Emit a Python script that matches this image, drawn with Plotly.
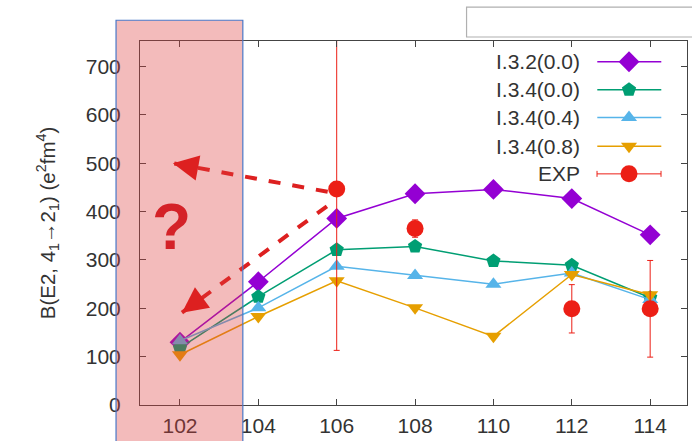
import plotly.graph_objects as go

# ---- data ----
mass = [102, 104, 106, 108, 110, 112, 114]
i332_00 = [130, 255, 386, 437, 446, 427, 352]
i334_00 = [118, 224, 321, 328, 298, 289, 222]
i334_04 = [133, 201, 287, 268, 250, 273, 218]
i334_08 = [104, 183, 257, 201, 142, 270, 228]
exp_x = [106, 108, 112, 114]
exp_y = [447, 365, 199, 199]
exp_err = [334, 18, 50, 100]

names = ["I.3.2(0.0)", "I.3.4(0.0)", "I.3.4(0.4)", "I.3.4(0.8)", "EXP"]
colors = ["#9400d3", "#009e73", "#56b4e9", "#e69f00", "#ec1f16"]
symbols = ["diamond", "pentagon", "triangle-up", "triangle-down", "circle"]
msizes = [16, 15, 14, 14, 17]
series = [i332_00, i334_00, i334_04, i334_08]

xticks = [102, 104, 106, 108, 110, 112, 114]
yticks = [0, 100, 200, 300, 400, 500, 600, 700]

FONT = "Liberation Sans"
fig = go.Figure()

for ys, n, c, s, ms in zip(series, names, colors, symbols, msizes):
    fig.add_trace(go.Scatter(
        x=mass, y=ys, mode="lines+markers", name=n,
        line=dict(color=c, width=1.5),
        marker=dict(symbol=s, size=ms, color=c, line=dict(width=0)),
        showlegend=False, cliponaxis=True))

fig.add_trace(go.Scatter(
    x=exp_x, y=exp_y, mode="markers", name="EXP",
    marker=dict(symbol="circle", size=17, color=colors[4], line=dict(width=0)),
    error_y=dict(type="data", array=exp_err, color=colors[4], thickness=1, width=3),
    showlegend=False))

# ---- custom legend (text on the left of the sample) ----
leg_y = [0.943, 0.866, 0.790, 0.711, 0.635]
lx0, lx1, lxm, ltx = 0.836, 0.953, 0.894, 0.808
for i, (n, c, s, ms) in enumerate(zip(names, colors, symbols, msizes)):
    if i < 4:
        fig.add_trace(go.Scatter(
            x=[lx0, lx1], y=[leg_y[i], leg_y[i]], mode="lines",
            line=dict(color=c, width=1.5), xaxis="x2", yaxis="y2",
            showlegend=False, hoverinfo="skip", cliponaxis=False))
        fig.add_trace(go.Scatter(
            x=[lxm], y=[leg_y[i]], mode="markers",
            marker=dict(symbol=s, size=ms, color=c, line=dict(width=0)),
            xaxis="x2", yaxis="y2", showlegend=False, hoverinfo="skip",
            cliponaxis=False))
    else:
        fig.add_trace(go.Scatter(
            x=[lxm], y=[leg_y[i]], mode="markers",
            marker=dict(symbol=s, size=ms, color=c, line=dict(width=0)),
            error_x=dict(type="constant", value=(lx1 - lx0) / 2, color=c,
                         thickness=1, width=3),
            xaxis="x2", yaxis="y2", showlegend=False, hoverinfo="skip",
            cliponaxis=False))
    fig.add_annotation(x=ltx, y=leg_y[i], xref="paper", yref="paper",
                       text=n, showarrow=False, xanchor="right", yanchor="middle",
                       font=dict(family=FONT, size=21, color="#333333"))

# ---- red dashed arrows ----
arrows = [((105.77, 441), (101.82, 500)), ((105.75, 411), (102.05, 191))]
for (sx, sy), (tx, ty) in arrows:
    fig.add_shape(type="line", xref="x", yref="y", x0=sx, y0=sy, x1=tx, y1=ty,
                  line=dict(color="#dd2020", width=4, dash="dash"), layer="above")
    fig.add_annotation(x=tx, y=ty, ax=tx + (sx - tx) * 0.12, ay=ty + (sy - ty) * 0.12,
                       xref="x", yref="y", axref="x", ayref="y", text="",
                       showarrow=True, arrowhead=2, arrowsize=1.7, arrowwidth=3,
                       arrowcolor="#dd2020")

# ---- pink shaded region ----
fig.add_shape(type="rect", xref="paper", yref="paper",
              x0=-0.0438, x1=0.188, y0=-0.3, y1=1.057,
              fillcolor="rgba(220,60,60,0.35)", line=dict(color="#4a78c8", width=1.2),
              layer="above")

# ---- empty box at top right ----
fig.add_shape(type="rect", xref="paper", yref="paper",
              x0=0.597, x1=1.05, y0=1.011, y1=1.093,
              fillcolor="white", line=dict(color="#b0b0b0", width=1.2), layer="above")

# ---- question mark ----
fig.add_annotation(x=0.058, y=0.49, xref="paper", yref="paper", text="<b>?</b>",
                   showarrow=False, xanchor="center", yanchor="middle",
                   font=dict(family=FONT, size=64, color="#d42228"))

axis_common = dict(showline=True, linecolor="#444444", linewidth=1, mirror="ticks",
                   ticks="inside", ticklen=6, tickcolor="#444444", showgrid=False,
                   zeroline=False,
                   tickfont=dict(family=FONT, size=21, color="#333333"))

fig.update_layout(
    width=692, height=441,
    margin=dict(l=140, r=4, t=41, b=33),
    paper_bgcolor="white", plot_bgcolor="white",
    font=dict(family=FONT, color="#333333"),
    xaxis=dict(range=[100.98, 114.94], tickvals=xticks, ticktext=[str(v) for v in xticks],
               ticklabelstandoff=2, **axis_common),
    yaxis=dict(range=[0, 753], tickvals=yticks, ticktext=[str(v) for v in yticks],
               ticklabelstandoff=14,
               title=dict(text="B(E2, 4<sub>1</sub>\u21922<sub>1</sub>) (e<sup>2</sup>fm<sup>4</sup>)",
                          font=dict(family=FONT, size=20.5, color="#333333"), standoff=24),
               **axis_common),
    xaxis2=dict(overlaying="x", range=[0, 1], visible=False),
    yaxis2=dict(overlaying="y", range=[0, 1], visible=False),
    showlegend=False,
)

fig.write_html("out.html")
